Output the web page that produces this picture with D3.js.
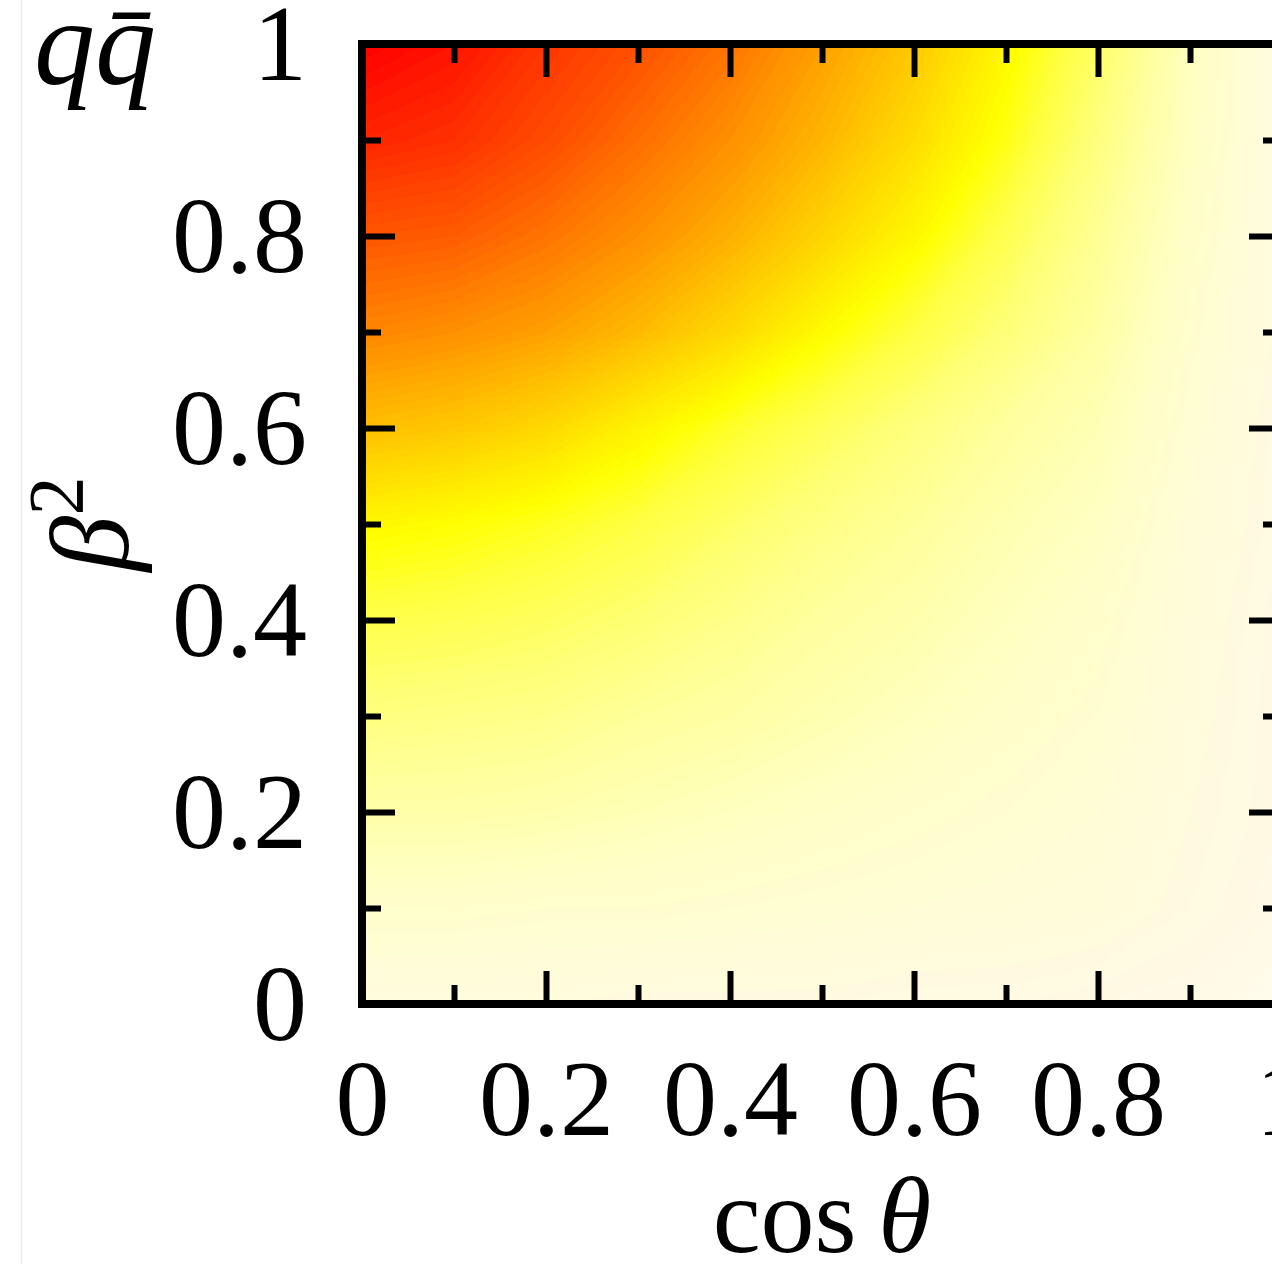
<!DOCTYPE html>
<html>
<head>
<meta charset="utf-8">
<script src="https://cdn.jsdelivr.net/npm/d3@7"></script>
<style>
body { margin: 0; background: #fff; }
svg { display: block; }
</style>
</head>
<body>
<div id="chart"></div>
<script>
// grid of the map: cos(theta) columns, beta^2 rows
const cosVals = [0, 0.1, 0.2, 0.3, 0.4, 0.5, 0.6, 0.7, 0.8, 0.9, 1];
const betaVals = [0, 0.1, 0.2, 0.3, 0.4, 0.5, 0.6, 0.7, 0.8, 0.9, 1];

// values, one row per beta^2 (from 0 up to 1)
const row00 = [0.09, 0.09, 0.09, 0.08, 0.08, 0.08, 0.07, 0.07, 0.06, 0.05, 0.03];
const row01 = [0.17, 0.17, 0.16, 0.16, 0.15, 0.14, 0.13, 0.12, 0.11, 0.08, 0.05];
const row02 = [0.26, 0.26, 0.25, 0.23, 0.21, 0.19, 0.17, 0.15, 0.13, 0.09, 0.06];
const row03 = [0.34, 0.33, 0.32, 0.29, 0.27, 0.24, 0.21, 0.18, 0.15, 0.10, 0.06];
const row04 = [0.42, 0.41, 0.39, 0.36, 0.32, 0.28, 0.25, 0.21, 0.17, 0.11, 0.06];
const row05 = [0.52, 0.50, 0.47, 0.43, 0.38, 0.33, 0.29, 0.24, 0.20, 0.12, 0.07];
const row06 = [0.66, 0.64, 0.60, 0.53, 0.46, 0.40, 0.34, 0.28, 0.23, 0.14, 0.07];
const row07 = [0.77, 0.75, 0.72, 0.67, 0.60, 0.51, 0.43, 0.35, 0.27, 0.16, 0.08];
const row08 = [0.85, 0.84, 0.80, 0.75, 0.69, 0.61, 0.52, 0.41, 0.30, 0.18, 0.08];
const row09 = [0.94, 0.92, 0.87, 0.81, 0.75, 0.68, 0.59, 0.48, 0.34, 0.20, 0.08];
const row10 = [1.00, 0.97, 0.91, 0.86, 0.80, 0.72, 0.64, 0.52, 0.38, 0.21, 0.08];
const valueRows = [row00, row01, row02, row03, row04, row05, row06, row07, row08, row09, row10];

// colour map, white -> yellow -> red
const colorStops = [0, 0.06, 0.12, 0.20, 0.28, 0.36, 0.44, 0.50, 0.58, 0.65, 0.72, 0.78, 0.85, 0.92, 1];
const colorList = ["#fffff5", "#fff9e4", "#fffcd8", "#ffffc4", "#ffffa0", "#ffff74", "#ffff3c", "#ffff00",
                   "#ffe000", "#ffc400", "#ffa000", "#ff8000", "#ff5600", "#ff3000", "#ff0000"];

const majorTicks = [0, 0.2, 0.4, 0.6, 0.8, 1];
const minorTicks = [0.1, 0.3, 0.5, 0.7, 0.9];
const tickLabels = ["0", "0.2", "0.4", "0.6", "0.8", "1"];

const width = 1272, height = 1264;
const FONT = '"Liberation Serif", "DejaVu Serif", serif';
const fs = 108;

const x = d3.scaleLinear().domain([0, 1]).range([362, 1282]);
const y = d3.scaleLinear().domain([0, 1]).range([1004, 44]);
const color = d3.scaleLinear().domain(colorStops).range(colorList).clamp(true);

const svg = d3.select("#chart").append("svg")
    .attr("width", width)
    .attr("height", height);

// faint page edge on the left
svg.append("line")
    .attr("x1", 21.5).attr("x2", 21.5)
    .attr("y1", 0).attr("y2", height)
    .attr("stroke", "#ececec").attr("stroke-width", 1.5);

// heat map drawn as many filled contour bands
const nx = cosVals.length, ny = betaVals.length;
const dc = cosVals[1] - cosVals[0], db = betaVals[1] - betaVals[0];
const grid = [];
for (let j = ny - 1; j >= 0; j--) {
  valueRows[j].forEach(v => grid.push(v));
}
const levels = d3.range(0, 1, 0.01);
const bands = d3.contours().size([nx, ny]).thresholds(levels)(grid);

const toPlot = d3.geoTransform({
  point: function(px, py) {
    this.stream.point(x(cosVals[0] + (px - 0.5) * dc), y(betaVals[ny - 1] - (py - 0.5) * db));
  }
});
const path = d3.geoPath(toPlot);

svg.append("clipPath").attr("id", "plotclip")
  .append("rect")
    .attr("x", x(0)).attr("y", y(1))
    .attr("width", x(1) - x(0)).attr("height", y(0) - y(1));

svg.append("g")
    .attr("clip-path", "url(#plotclip)")
  .selectAll("path")
  .data(bands)
  .join("path")
    .attr("d", path)
    .attr("fill", d => color(d.value + 0.005))
    .attr("stroke", d => color(d.value + 0.005))
    .attr("stroke-width", 0.6);

// ticks on all four sides, pointing in
function drawTicks(axisFn, scale, pos, vals, len, labels) {
  const ax = axisFn(scale).tickValues(vals).tickSize(-len)
      .tickFormat(labels ? ((d, i) => labels[i]) : () => "");
  const g = svg.append("g").attr("transform", pos).call(ax);
  g.select(".domain").remove();
  g.selectAll(".tick line").attr("stroke", "#000").attr("stroke-width", 6);
  g.attr("font-family", FONT).attr("font-size", fs);
  return g;
}

drawTicks(d3.axisBottom, x, `translate(0,${y(0)})`, minorTicks, 19);
drawTicks(d3.axisTop, x, `translate(0,${y(1)})`, minorTicks, 19);
drawTicks(d3.axisLeft, y, `translate(${x(0)},0)`, minorTicks, 19);
drawTicks(d3.axisRight, y, `translate(${x(1)},0)`, minorTicks, 19);
drawTicks(d3.axisTop, x, `translate(0,${y(1)})`, majorTicks, 33);
drawTicks(d3.axisRight, y, `translate(${x(1)},0)`, majorTicks, 33);

const xb = drawTicks(d3.axisBottom, x, `translate(0,${y(0)})`, majorTicks, 33, tickLabels);
xb.selectAll(".tick text").attr("y", 0).attr("dy", 131).attr("fill", "#000");

const yl = drawTicks(d3.axisLeft, y, `translate(${x(0)},0)`, majorTicks, 33, tickLabels);
yl.selectAll(".tick text").attr("x", -55).attr("dy", "0.33em").attr("fill", "#000");

// frame
svg.append("rect")
    .attr("x", x(0)).attr("y", y(1))
    .attr("width", x(1) - x(0)).attr("height", y(0) - y(1))
    .attr("fill", "none").attr("stroke", "#000").attr("stroke-width", 8);

// axis titles
const xt = svg.append("text")
    .attr("x", x(0.5)).attr("y", 1252)
    .attr("text-anchor", "middle")
    .attr("font-family", FONT).attr("font-size", fs);
xt.append("tspan").text("cos\u2009");
xt.append("tspan").attr("font-style", "italic").text("θ");

const yt = svg.append("text")
    .attr("transform", `translate(128,${y(0.5)}) rotate(-90)`)
    .attr("text-anchor", "middle")
    .attr("font-family", FONT).attr("font-size", 112);
yt.append("tspan").attr("font-style", "italic").text("β");
yt.append("tspan").attr("font-size", 78).attr("dy", -46).text("2");

// process label
svg.append("text")
    .attr("x", 34).attr("y", 84)
    .attr("font-family", FONT).attr("font-size", 122)
    .attr("font-style", "italic")
    .text("qq\u0304");
</script>
</body>
</html>
